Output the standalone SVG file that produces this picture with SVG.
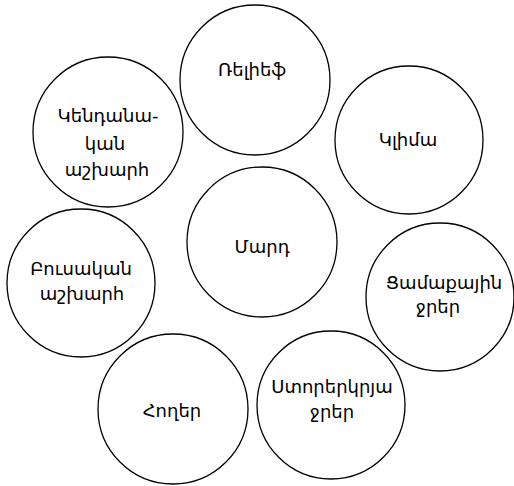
<svg xmlns="http://www.w3.org/2000/svg" width="514" height="486" viewBox="0 0 514 486">
<style>
circle{fill:#fff;stroke:#000;stroke-width:1.3}
text{font-family:"DejaVu Sans","Noto Sans",sans-serif;font-size:18px;fill:#000;text-anchor:middle}
</style>
<rect width="514" height="486" fill="#fff"/>
<g id="connectors"/>
<g id="n-center"><circle cx="262" cy="242" r="75"/><text x="262" y="253">Մարդ</text></g>
<g id="n-relief"><circle cx="255" cy="80" r="75"/><text x="252" y="76">Ռելիեֆ</text></g>
<g id="n-climate"><circle cx="409" cy="140" r="74"/><text x="408" y="146">Կլիմա</text></g>
<g id="n-surface"><circle cx="440" cy="297" r="74"/><text x="444" y="289">Ցամաքային</text><text x="438" y="313">ջրեր</text></g>
<g id="n-ground"><circle cx="331" cy="405" r="74"/><text x="332" y="393">Ստորերկրյա</text><text x="332" y="418">ջրեր</text></g>
<g id="n-soil"><circle cx="173" cy="409" r="75"/><text x="172" y="417">Հողեր</text></g>
<g id="n-flora"><circle cx="81" cy="283" r="74"/><text x="81" y="275">Բուսական</text><text x="82" y="300">աշխարհ</text></g>
<g id="n-fauna"><circle cx="108" cy="132" r="75"/><text x="108" y="122">Կենդանա-</text><text x="105" y="150">կան</text><text x="107" y="176">աշխարհ</text></g>
</svg>
